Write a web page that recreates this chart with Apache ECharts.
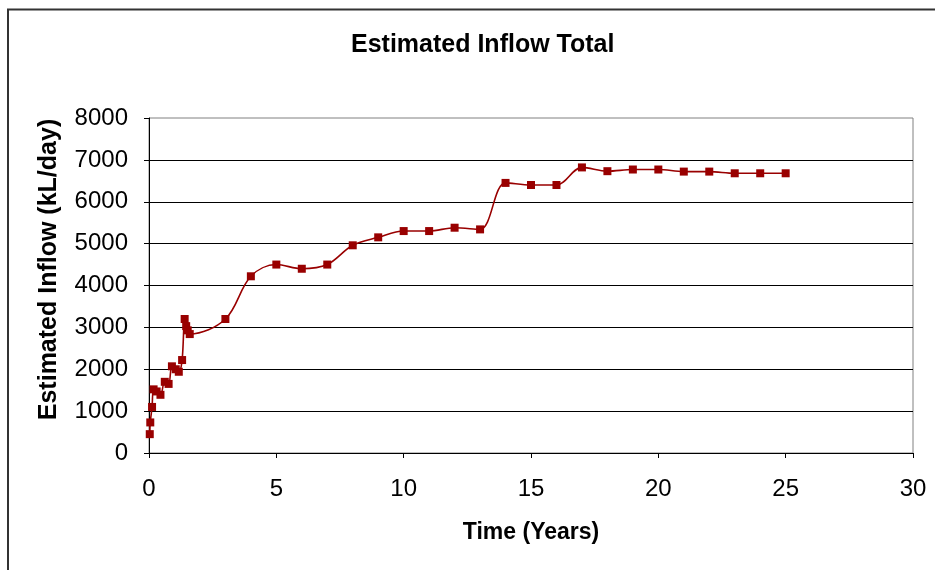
<!DOCTYPE html>
<html>
<head>
<meta charset="utf-8">
<script src="https://cdn.jsdelivr.net/npm/echarts@6/dist/echarts.min.js"></script>
<style>html,body{margin:0;padding:0;background:#fff}#c{width:935px;height:570px}</style>
</head>
<body>
<div id="c"></div>
<script>
const years = [0.03, 0.05, 0.12, 0.18, 0.3, 0.45, 0.62, 0.77, 0.9, 1.05, 1.17, 1.3, 1.4, 1.46, 1.52, 1.6,
  3, 4, 5, 6, 7, 8, 9, 10, 11, 12, 13, 14, 15, 16, 17, 18, 19, 20, 21, 22, 23, 24, 25];
const inflow = [450, 730, 1100, 1520, 1470, 1390, 1700, 1650, 2070, 2000, 1940, 2220, 3200, 3030, 2930, 2840,
  3200, 4220, 4500, 4400, 4500, 4960, 5150, 5300, 5300, 5380, 5340, 6450, 6400, 6400, 6820, 6730, 6770, 6770, 6720, 6720, 6680, 6680, 6680];
const titleText = 'Estimated Inflow Total';
const xName = 'Time (Years)';
const yName = 'Estimated Inflow (kL/day)';

const chart = echarts.init(document.getElementById('c'), null, {renderer: 'canvas'});
const font = 'Liberation Sans, Arial, sans-serif';
chart.setOption({
  animation: false,
  backgroundColor: '#fff',
  title: {
    text: titleText, left: 346, top: 28,
    textStyle: {fontFamily: font, fontWeight: 'bold', fontSize: 25, color: '#000'}
  },
  grid: {left: 149, right: 22, top: 118, bottom: 117, show: true, borderColor: '#808080', borderWidth: 1},
  graphic: [{
    type: 'rect', shape: {x: 8, y: 9.5, width: 1200, height: 1200},
    style: {fill: null, stroke: '#333', lineWidth: 2}, z: 100, silent: true
  }],
  xAxis: {
    type: 'value', min: 0, max: 30, interval: 5,
    name: xName, nameLocation: 'middle', nameGap: 68,
    nameTextStyle: {fontFamily: font, fontWeight: 'bold', fontSize: 23, color: '#000'},
    axisLine: {show: true, onZero: false, lineStyle: {color: '#000', width: 1}},
    axisTick: {show: true, inside: false, length: 5, lineStyle: {color: '#000'}},
    axisLabel: {fontFamily: font, fontSize: 24, color: '#000', margin: 24},
    splitLine: {show: false}
  },
  yAxis: {
    type: 'value', min: 0, max: 8000, interval: 1000,
    name: yName, nameLocation: 'middle', nameGap: 87,
    nameTextStyle: {fontFamily: font, fontWeight: 'bold', fontSize: 25, color: '#000', padding: [0, 0, 0, 32]},
    axisLine: {show: true, lineStyle: {color: '#000', width: 1}},
    axisTick: {show: true, inside: false, length: 5, lineStyle: {color: '#000'}},
    axisLabel: {fontFamily: font, fontSize: 24, color: '#000', margin: 21, formatter: v => String(v)},
    splitLine: {show: true, showMaxLine: false, lineStyle: {color: '#000', width: 1}}
  },
  series: [{
    type: 'line',
    data: years.map((t, i) => [t, inflow[i]]),
    smooth: 0.35,
    symbol: 'rect', symbolSize: 8,
    lineStyle: {color: '#990000', width: 1.6},
    itemStyle: {color: '#990000'},
    z: 5
  }]
});
</script>
</body>
</html>
